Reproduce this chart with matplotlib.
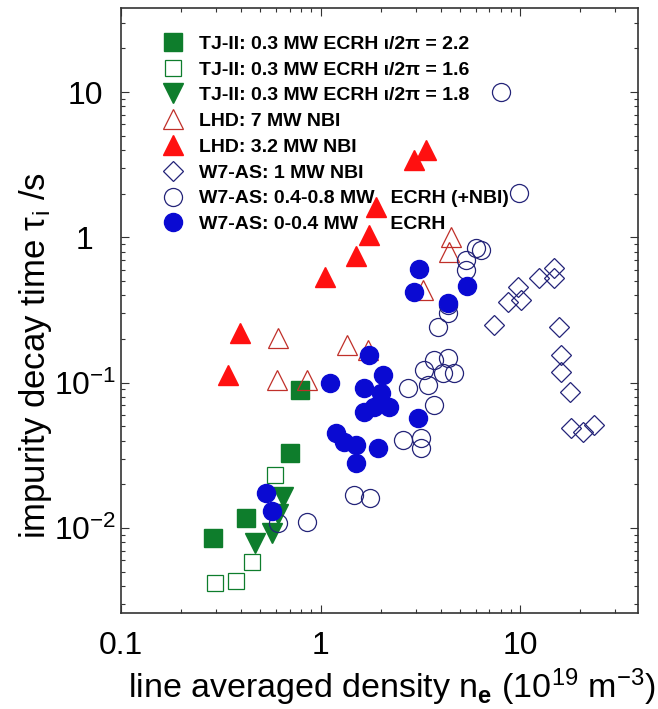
import matplotlib
matplotlib.use("Agg")
import matplotlib.pyplot as plt
from matplotlib.ticker import LogLocator, NullFormatter

plt.rcParams['font.family'] = ['Liberation Sans', 'DejaVu Sans']
plt.rcParams['mathtext.fontset'] = 'custom'
plt.rcParams['mathtext.rm'] = 'Liberation Sans'
plt.rcParams['mathtext.it'] = 'Liberation Sans:italic'
plt.rcParams['mathtext.bf'] = 'Liberation Sans:bold'

# TJ-II, iota/2pi = 2.2 (filled squares)
tj22_n = [0.29, 0.425, 0.70, 0.79]
tj22_tau = [0.0086, 0.0118, 0.033, 0.0895]
# TJ-II, iota/2pi = 1.6 (open squares)
tj16_n = [0.296, 0.378, 0.455, 0.594]
tj16_tau = [0.0042, 0.0043, 0.0058, 0.023]
# TJ-II, iota/2pi = 1.8 (down triangles)
tj18_n = [0.471, 0.568, 0.615, 0.652]
tj18_tau = [0.0079, 0.0093, 0.0124, 0.0164]
# LHD 7 MW NBI (open triangles)
lhd7_n = [0.615, 0.608, 0.851, 1.35, 1.72, 3.26, 4.5, 4.4]
lhd7_tau = [0.204, 0.105, 0.105, 0.182, 0.169, 0.436, 1.01, 0.795]
# LHD 3.2 MW NBI (filled triangles)
lhd3_n = [0.345, 0.396, 1.05, 1.50, 1.74, 1.89, 2.93, 3.37]
lhd3_tau = [0.1135, 0.221, 0.535, 0.746, 1.04, 1.62, 3.41, 3.99]
# W7-AS 1 MW NBI (diamonds)
nbi_n = [7.4, 8.71, 10.1, 9.77, 12.5, 14.8, 14.8, 15.7, 16.1, 16.1, 17.8, 18.0, 20.7, 23.5]
nbi_tau = [0.25, 0.36, 0.372, 0.457, 0.527, 0.527, 0.617, 0.243, 0.156, 0.119, 0.0867, 0.049, 0.046, 0.0515]
# W7-AS 0.4-0.8 MW ECRH (+NBI) (open circles)
ec_hi_n = [8.03, 9.9, 6.01, 6.37, 5.35, 5.35, 4.35, 4.35, 3.87, 3.70, 4.35, 3.29, 4.10, 4.66,
           3.45, 2.74, 3.70, 3.18, 3.18, 2.58, 0.615, 0.86, 1.47, 1.76]
ec_hi_tau = [10.0, 2.02, 0.847, 0.82, 0.70, 0.598, 0.344, 0.303, 0.243, 0.144, 0.149, 0.123, 0.117, 0.117,
             0.097, 0.0924, 0.0706, 0.0419, 0.0357, 0.0406, 0.0109, 0.011, 0.017, 0.016]
# W7-AS 0-0.4 MW ECRH (filled circles)
ec_lo_n = [0.536, 0.574, 3.11, 2.93, 5.42, 4.35, 1.74, 2.05, 1.11, 1.66, 2.00, 2.20, 1.85, 1.66,
           3.07, 1.20, 1.31, 1.50, 1.93, 1.50]
ec_lo_tau = [0.0173, 0.013, 0.608, 0.422, 0.464, 0.355, 0.156, 0.1135, 0.10, 0.0924, 0.0853, 0.0685,
             0.0685, 0.0632, 0.0575, 0.0453, 0.0393, 0.0375, 0.0357, 0.0282]

labels = [
    'TJ-II: 0.3 MW ECRH ι/2π = 2.2',
    'TJ-II: 0.3 MW ECRH ι/2π = 1.6',
    'TJ-II: 0.3 MW ECRH ι/2π = 1.8',
    'LHD: 7 MW NBI',
    'LHD: 3.2 MW NBI',
    'W7-AS: 1 MW NBI',
    'W7-AS: 0.4-0.8 MW   ECRH (+NBI)',
    'W7-AS: 0-0.4 MW      ECRH',
]

green = '#0e7d2c'
red = '#ff1010'
dred = '#c0302a'
blue = '#0a0ad2'
navy = '#232378'

fig = plt.figure(figsize=(6.58, 7.09), dpi=100)
ax = fig.add_axes([121 / 658, 1 - 613 / 709, 517 / 658, 605 / 709])

ax.plot(tj22_n, tj22_tau, ls='none', marker='s', ms=12.5, mfc=green, mec=green, label=labels[0])
ax.plot(tj16_n, tj16_tau, ls='none', marker='s', ms=12, mfc='none', mec=green, mew=0.9, label=labels[1])
ax.plot(tj18_n, tj18_tau, ls='none', marker='v', ms=14, mfc=green, mec=green, label=labels[2])
ax.plot(lhd7_n, lhd7_tau, ls='none', marker='^', ms=14, mfc='none', mec=dred, mew=0.9, label=labels[3])
ax.plot(lhd3_n, lhd3_tau, ls='none', marker='^', ms=14, mfc=red, mec=red, label=labels[4])
ax.plot(nbi_n, nbi_tau, ls='none', marker='D', ms=10, mfc='none', mec=navy, mew=0.9, label=labels[5])
ax.plot(ec_hi_n, ec_hi_tau, ls='none', marker='o', ms=13, mfc='none', mec=navy, mew=0.9, label=labels[6])
ax.plot(ec_lo_n, ec_lo_tau, ls='none', marker='o', ms=13, mfc=blue, mec=blue, label=labels[7])

ax.set_xscale('log')
ax.set_yscale('log')
ax.set_xlim(0.1, 39)
ax.set_ylim(0.0026, 38)

ax.set_xticks([0.1, 1, 10])
ax.set_xticklabels(['0.1', '1', '10'])
ax.set_yticks([0.01, 0.1, 1, 10])
ax.set_yticklabels([r'10$^{\mathregular{-2}}$', r'10$^{\mathregular{-1}}$', '1', '10'], ha='center')
ax.xaxis.set_minor_locator(LogLocator(subs=range(2, 10)))
ax.yaxis.set_minor_locator(LogLocator(subs=range(2, 10)))
ax.xaxis.set_minor_formatter(NullFormatter())
ax.yaxis.set_minor_formatter(NullFormatter())
ax.tick_params(which='both', direction='in', top=True, right=True, width=0.8, color='#333333',
               labelsize=23)
ax.tick_params(which='major', length=5.5)
ax.tick_params(which='minor', length=3)
ax.tick_params(axis='x', which='major', pad=13)
ax.tick_params(axis='y', which='major', pad=26)
for s in ax.spines.values():
    s.set_linewidth(1.2)
    s.set_color('#333333')

ax.set_xlabel(r'line averaged density n$_{\mathbf{e}}$ (10$^{\mathregular{19}}$ m$^{\mathregular{-3}}$)',
              fontsize=24.5)
ax.set_ylabel(r'impurity decay time τ$_{\mathregular{i}}$ /s', fontsize=25)
ax.yaxis.set_label_coords(-0.13, 0.425)
ax.xaxis.set_label_coords(0.523, -0.088)

leg = ax.legend(loc='upper left', bbox_to_anchor=(0.067, 0.968), frameon=False,
                prop={'weight': 'bold', 'size': 14}, handlelength=1.0, handletextpad=0.85,
                labelspacing=0.42, borderaxespad=0, numpoints=1)
leg.set_zorder(1)

fig.savefig('out.png', dpi=100)
